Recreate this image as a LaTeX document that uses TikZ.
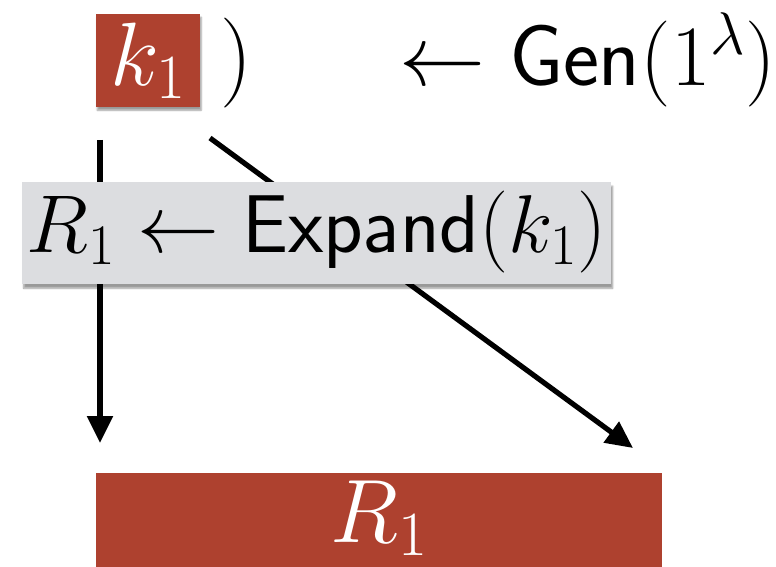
\RequirePackage{fix-cm}
\documentclass[tikz,border=0pt]{standalone}
\usetikzlibrary{arrows.meta,shadows.blur}
\definecolor{brick}{HTML}{AE412F}
\definecolor{boxgray}{HTML}{DCDDE0}
\tikzset{
  big/.style={font=\fontsize{90}{90}\selectfont},
  mid/.style={font=\fontsize{82}{82}\selectfont},
  conn/.style={line width=5.2pt,-{Triangle[length=27pt,width=25pt]}},
  redbox/.style={big,fill=brick,text=white,inner sep=0pt,align=center},
}
\begin{document}
\begin{tikzpicture}[x=1pt,y=-1pt]
\useasboundingbox (0,0) rectangle (776,567);
% connectors (behind the gray box)
\coordinate (vs) at (100,140);
\coordinate (ve) at (100,443);
\coordinate (ds) at (210,138);
\coordinate (de) at (633,448);
\draw[conn] (vs) -- (ve);
\draw[conn] (ds) -- (de);
% top row
\node[redbox,blur shadow={shadow xshift=1pt,shadow yshift=-3pt,shadow blur steps=5},
  minimum width=104pt,text height=71pt,text depth=22pt,anchor=north west] (k1) at (96,14) {$k_1$};
\node[big,anchor=base west,inner sep=0pt] (rp) at (220,86) {$)$};
\node[font=\fontsize{86}{86}\selectfont,anchor=base west,inner sep=0pt] (gen) at (399,86) {$\leftarrow \mathsf{Gen}(1^\lambda)$};
% expand box
\node[mid,fill=boxgray,inner sep=0pt,minimum width=589pt,text height=70pt,text depth=32pt,
  anchor=north west,blur shadow={shadow xshift=1.5pt,shadow yshift=-4pt,shadow blur steps=6}] (exp) at (22,182)
  {$R_1 \leftarrow \mathsf{Expand}(k_1)$};
% bottom box
\node[redbox,minimum width=566pt,text height=69pt,text depth=25pt,anchor=north west] (r1) at (96,473) {$R_1$};
\end{tikzpicture}
\end{document}
